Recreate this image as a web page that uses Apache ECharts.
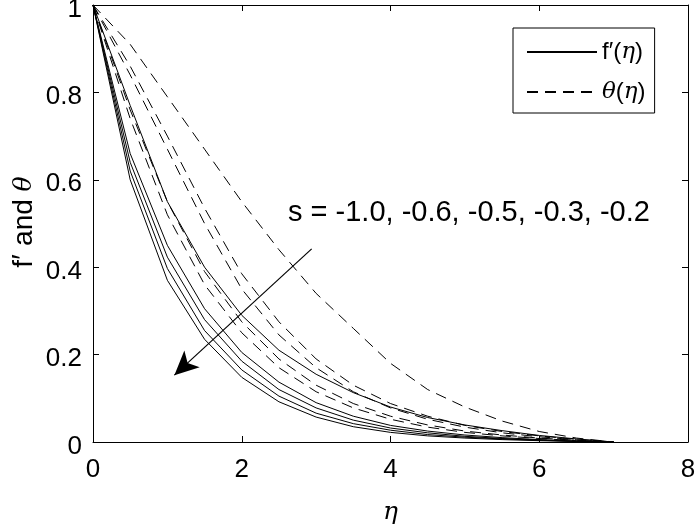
<!DOCTYPE html>
<html>
<head>
<meta charset="utf-8">
<script src="https://cdn.jsdelivr.net/npm/echarts@6/dist/echarts.min.js"></script>
<style>html,body{margin:0;padding:0;background:#fff}#c{width:696px;height:528px}</style>
</head>
<body>
<div id="c"></div>
<script>
var etas = [0, 0.5, 1, 1.5, 2, 2.5, 3, 3.5, 4, 4.5, 5, 5.5, 6, 6.5, 7];
// f'(eta) curves (solid)
var fp1 = [1, 0.60, 0.370, 0.235, 0.148, 0.092, 0.057, 0.035, 0.022, 0.014, 0.009, 0.0055, 0.003, 0.0012, 0];
var fp2 = [1, 0.62, 0.397, 0.255, 0.165, 0.105, 0.066, 0.042, 0.027, 0.017, 0.011, 0.007, 0.004, 0.0015, 0];
var fp3 = [1, 0.64, 0.423, 0.280, 0.185, 0.120, 0.078, 0.050, 0.032, 0.021, 0.013, 0.008, 0.0045, 0.0018, 0];
var fp4 = [1, 0.66, 0.450, 0.305, 0.205, 0.137, 0.090, 0.059, 0.038, 0.025, 0.016, 0.010, 0.0055, 0.002, 0];
var fp5 = [1, 0.77, 0.550, 0.400, 0.290, 0.210, 0.155, 0.113, 0.080, 0.056, 0.039, 0.026, 0.015, 0.007, 0];
// theta(eta) curves (dashed)
var th1 = [1, 0.74, 0.52, 0.36, 0.250, 0.170, 0.115, 0.078, 0.052, 0.034, 0.022, 0.014, 0.008, 0.003, 0];
var th2 = [1, 0.76, 0.55, 0.39, 0.275, 0.190, 0.130, 0.088, 0.059, 0.039, 0.025, 0.016, 0.009, 0.004, 0];
var th3 = [1, 0.84, 0.67, 0.50, 0.350, 0.245, 0.170, 0.115, 0.078, 0.052, 0.034, 0.021, 0.012, 0.005, 0];
var th4 = [1, 0.86, 0.70, 0.535, 0.385, 0.275, 0.190, 0.130, 0.088, 0.059, 0.038, 0.024, 0.014, 0.006, 0];
var th5 = [1, 0.91, 0.79, 0.67, 0.550, 0.440, 0.340, 0.260, 0.180, 0.120, 0.080, 0.048, 0.024, 0.009, 0];
var solidCurves = [fp1, fp2, fp3, fp4, fp5];
var dashedCurves = [th1, th2, th3, th4, th5];
var fpName = 'f′(η)';
var thName = 'θ(η)';
var annotationText = 's = -1.0, -0.6, -0.5, -0.3, -0.2';
var arrowStart = [2.94, 0.442];
var arrowEnd = [1.094, 0.153];

function pairs(arr) { return etas.map(function (e, i) { return [e, arr[i]]; }); }

var series = [];
solidCurves.forEach(function (c) {
  series.push({ name: fpName, type: 'line', data: pairs(c), symbol: 'none', showSymbol: false, silent: true,
    lineStyle: { color: '#000', width: 1, type: 'solid' }, itemStyle: { color: '#000' } });
});
dashedCurves.forEach(function (c) {
  series.push({ name: thName, type: 'line', data: pairs(c), symbol: 'none', showSymbol: false, silent: true,
    lineStyle: { color: '#000', width: 1, type: [11, 7] }, itemStyle: { color: '#000' } });
});
series[0].markLine = {
  silent: true, animation: false,
  symbol: ['none', 'arrow'], symbolSize: [17, 24],
  lineStyle: { color: '#000', width: 1.2, type: 'solid' },
  label: { show: false },
  data: [[{ coord: arrowStart }, { coord: arrowEnd }]]
};

var fontSans = 'Liberation Sans, Arial, Helvetica, sans-serif';
var fontMath = 'DejaVu Serif, Liberation Serif, serif';

var chart = echarts.init(document.getElementById('c'), null, { renderer: 'canvas' });
chart.setOption({
  animation: false,
  backgroundColor: '#fff',
  grid: { left: 93, right: 8, top: 5, bottom: 86, containLabel: false, outerBoundsMode: 'none' },
  xAxis: [{
    type: 'value', min: 0, max: 8, interval: 2,
    name: 'η', nameLocation: 'middle', nameGap: 58,
    nameTextStyle: { fontFamily: fontMath, fontStyle: 'italic', fontSize: 25, color: '#000' },
    axisLine: { show: true, lineStyle: { color: '#000', width: 1 } },
    axisTick: { show: true, inside: true, length: 6, lineStyle: { color: '#000' } },
    axisLabel: { fontFamily: fontSans, fontSize: 26, color: '#000', margin: 15 },
    splitLine: { show: false }
  }, {
    type: 'value', min: 0, max: 8, interval: 2, position: 'top',
    axisLine: { show: true, onZero: false, lineStyle: { color: '#000', width: 1 } },
    axisTick: { show: true, inside: true, length: 6, lineStyle: { color: '#000' } },
    axisLabel: { show: false }, splitLine: { show: false }
  }],
  yAxis: [{
    type: 'value', min: 0, max: 1, interval: 0.2,
    axisLine: { show: true, lineStyle: { color: '#000', width: 1 } },
    axisTick: { show: true, inside: true, length: 6, lineStyle: { color: '#000' } },
    axisLabel: { fontFamily: fontSans, fontSize: 26, color: '#000', margin: 11,
      verticalAlign: 'top', lineHeight: 9,
      formatter: function (v) { return String(Math.round(v * 10) / 10); } },
    splitLine: { show: false }
  }, {
    type: 'value', min: 0, max: 1, interval: 0.2, position: 'right',
    axisLine: { show: true, onZero: false, lineStyle: { color: '#000', width: 1 } },
    axisTick: { show: true, inside: true, length: 6, lineStyle: { color: '#000' } },
    axisLabel: { show: false }, splitLine: { show: false }
  }],
  legend: {
    show: true, orient: 'vertical', left: 513, top: 28,
    data: [fpName, thName],
    backgroundColor: '#fff', borderColor: '#000', borderWidth: 1,
    padding: [10, 9, 7, 13], itemGap: 12, itemWidth: 70, itemHeight: 14,
    selectedMode: false,
    itemStyle: { opacity: 0 },
    textStyle: {
      fontFamily: fontSans, fontSize: 24, color: '#000', lineHeight: 28,
      rich: {
        r: { fontFamily: fontSans, fontSize: 24, color: '#000', lineHeight: 28 },
        i: { fontFamily: fontMath, fontStyle: 'italic', fontSize: 23, color: '#000', lineHeight: 28 }
      }
    },
    formatter: function (name) {
      if (name === fpName) return '{r|f′(}{i|η}{r|)}';
      return '{i|θ}{r|(}{i|η}{r|)}';
    }
  },
  graphic: [{
    type: 'text', left: 288, top: 198, silent: true,
    style: { text: annotationText, fontFamily: fontSans, fontSize: 29, fill: '#000' }
  }, {
    type: 'text', x: 24, y: 222, rotation: Math.PI / 2, silent: true,
    style: {
      text: '{r|f}{p|′ }{r|and }{i|θ}', align: 'center', verticalAlign: 'middle',
      fontFamily: fontSans, fontSize: 28, fill: '#000',
      rich: {
        r: { fontFamily: fontSans, fontSize: 28, fill: '#000' },
        p: { fontFamily: fontSans, fontSize: 30, fill: '#000' },
        i: { fontFamily: fontMath, fontStyle: 'italic', fontSize: 25, fill: '#000' }
      }
    }
  }],
  series: series
});
</script>
</body>
</html>
